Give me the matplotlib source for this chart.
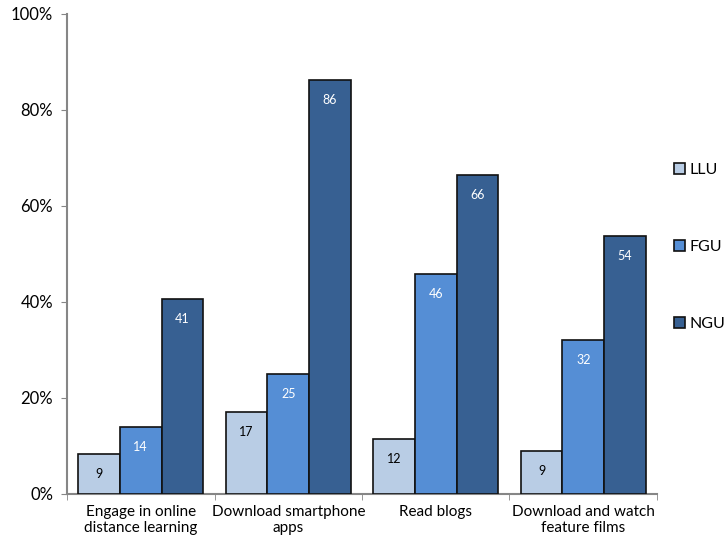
import matplotlib.pyplot as plt
import numpy as np
from matplotlib.ticker import FuncFormatter, FixedLocator

categories = ['Engage in online\ndistance learning', 'Download smartphone\napps',
              'Read blogs', 'Download and watch\nfeature films']
series_names = ['LLU', 'FGU', 'NGU']
llu = [8.4, 17.1, 11.4, 9.0]
fgu = [14.0, 25.0, 45.8, 32.1]
ngu = [40.6, 86.3, 66.4, 53.8]
llu_labels = ['9', '17', '12', '9']
fgu_labels = ['14', '25', '46', '32']
ngu_labels = ['41', '86', '66', '54']

colors = ['#B9CDE5', '#558ED5', '#376092']
text_colors = ['black', 'white', 'white']

plt.rcParams['font.family'] = ['Lato', 'DejaVu Sans']

fig = plt.figure(figsize=(7.25, 5.47), dpi=100)
ax = fig.add_axes([67 / 725, 1 - 494 / 547, 590 / 725, 480 / 547])

x = np.arange(len(categories))
w = 0.283
all_vals = [llu, fgu, ngu]
all_labels = [llu_labels, fgu_labels, ngu_labels]
for i, (vals, labs) in enumerate(zip(all_vals, all_labels)):
    pos = x + (i - 1) * w
    ax.bar(pos, vals, width=w, color=colors[i], edgecolor='#111111',
           linewidth=1.2, label=series_names[i], zorder=3)
    for px, v, lab in zip(pos, vals, labs):
        ax.annotate(lab, (px, v), xytext=(0, -14.5), textcoords='offset points',
                    ha='center', va='center', fontsize=9, color=text_colors[i])

ax.set_xlim(-0.5, 3.5)
ax.set_ylim(0, 100)
ax.set_yticks(np.arange(0, 101, 20))
ax.yaxis.set_major_formatter(FuncFormatter(lambda v, p: f'{v:.0f}%'))
ax.set_xticks(x)
ax.set_xticklabels(categories, fontsize=11, linespacing=1.15)
ax.xaxis.set_minor_locator(FixedLocator(np.arange(-0.5, 4, 1)))
ax.tick_params(axis='x', which='major', length=0, pad=8)
ax.tick_params(axis='x', which='minor', length=4, color='#868686', direction='out')
ax.tick_params(axis='y', length=4, color='#868686', labelsize=12, pad=6)
for s in ['top', 'right']:
    ax.spines[s].set_visible(False)
for s in ['left', 'bottom']:
    ax.spines[s].set_color('#868686')
    ax.spines[s].set_linewidth(1.5)

fig.legend(loc='center left', bbox_to_anchor=(674 / 725, 1 - 247 / 547),
           frameon=False, fontsize=11.5, labelspacing=3.95, handlelength=0.68,
           handleheight=0.68, handletextpad=0.3, borderpad=0, borderaxespad=0)

fig.savefig('out.png', dpi=100)
